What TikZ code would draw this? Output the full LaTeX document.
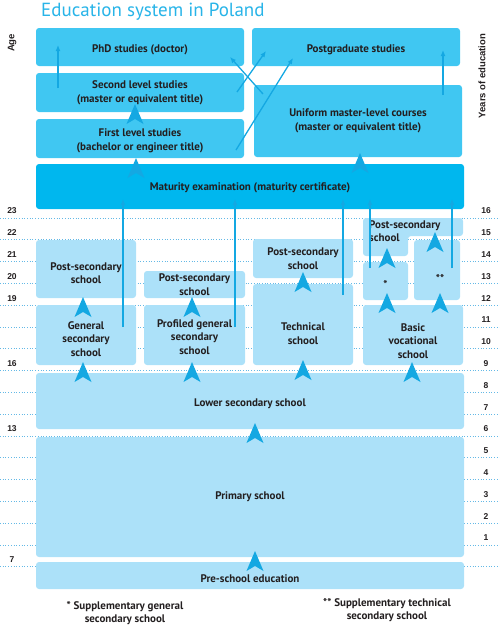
\documentclass[tikz,border=0pt]{standalone}
\usepackage{fontspec}
\setmainfont{PT Sans}
\newfontfamily\numfont{Liberation Sans}
\usetikzlibrary{arrows.meta,calc}
\definecolor{upbox}{RGB}{64,199,242}
\definecolor{matbox}{RGB}{0,183,238}
\definecolor{lowbox}{RGB}{172,225,249}
\definecolor{arrowc}{RGB}{20,168,226}
\definecolor{gridc}{RGB}{100,185,230}
\definecolor{txt}{RGB}{35,31,32}
\definecolor{titlec}{RGB}{40,180,232}
\newcommand\boxfont{\bfseries\fontsize{11}{13.6}\selectfont}
\begin{document}
\begin{tikzpicture}[x=1pt,y=-1pt,
  box/.style={rounded corners=3pt, inner sep=0pt, align=center, text=txt, font=\boxfont},
  up/.style={box, fill=upbox},
  matb/.style={box, fill=matbox},
  low/.style={box, fill=lowbox},
  thinarrow/.style={draw=arrowc, line width=1.3pt, -{Latex[length=6pt,width=5pt]}},
  gridline/.style={gridc, dotted, line width=0.7pt},
  num/.style={font=\numfont\bfseries\fontsize{8.5}{9}\selectfont, text=txt},
  chev/.pic={\fill[arrowc] (0,0) -- (8.5,20) -- (0,15) -- (-8.5,20) -- cycle;}]
\useasboundingbox (0,0) rectangle (500,627);
% title
\node[anchor=base west, inner sep=0pt, text=titlec, font=\fontsize{19}{22}\selectfont] (title) at (41,16) {Education system in Poland};
% grid lines and numbers
\foreach \k in {0,...,16} \draw[gridline] (0,218+21.8*\k) -- (500,218+21.8*\k);
\foreach \n [count=\k from 0] in {16,15,...,1} \node[num] (r\n) at (486,211+21.8*\k) {\n};
\foreach \n/\k in {23/0,22/1,21/2,20/3,19/4,16/7,13/10,7/16} \node[num] (l\n) at (12,211+21.8*\k) {\n};
\node[num, rotate=90, font=\numfont\bfseries\fontsize{9.5}{10}\selectfont] (age) at (12,43) {Age};
\node[num, rotate=90, font=\numfont\bfseries\fontsize{9.5}{10}\selectfont] (years) at (482,76) {Years of education};
% higher education
\node[up, minimum width=208pt, minimum height=38pt, label={[box,yshift=-2.5pt]center:PhD studies (doctor)}] (phd) at (140,47) {};
\node[up, minimum width=208pt, minimum height=38pt, label={[box,yshift=-2.5pt]center:Postgraduate studies}] (pg) at (356,47) {};
\node[up, minimum width=208pt, minimum height=39pt] (sec) at (140,92.5) {Second level studies\\(master or equivalent title)};
\node[up, minimum width=208pt, minimum height=39pt, label={[box,yshift=-2pt]center:First level studies\\(bachelor or engineer title)}] (first) at (140,138.5) {};
\node[up, minimum width=208pt, minimum height=72pt] (uni) at (358,121) {Uniform master-level courses\\(master or equivalent title)};
\node[matb, minimum width=428pt, minimum height=45pt, label={[box,yshift=-1.5pt]center:Maturity examination (maturity certificate)}] (mat) at (250,186.5) {};
% secondary
\node[low, minimum width=100pt, minimum height=58pt, label={[box,yshift=-4pt]center:Post-secondary\\school}] (ps1) at (86,269) {};
\node[low, minimum width=100pt, minimum height=60pt, label={[box,yshift=-4pt]center:General\\secondary\\school}] (gen) at (86,335) {};
\node[low, minimum width=101pt, minimum height=27pt] (ps2) at (194.5,284.5) {Post-secondary\\school};
\node[low, minimum width=101pt, minimum height=60pt, label={[box,yshift=-2pt]center:Profiled general\\secondary\\school}] (prof) at (194.5,335) {};
\node[low, minimum width=100pt, minimum height=39pt] (ps3) at (303,258.5) {Post-secondary\\school};
\node[low, minimum width=100pt, minimum height=81pt, label={[box,yshift=-9pt]center:Technical\\school}] (tech) at (303,324.5) {};
\fill[lowbox, rounded corners=3pt] (363,218) -- (463,218) -- (463,236) -- (408,236) -- (408,256) -- (363,256) -- cycle;
\node[box, anchor=north west, align=left] (ps4) at (369,220) {Post-secondary\\school};
\node[low, minimum width=45pt, minimum height=38pt, label={[box,yshift=-3pt]center:*}] (star) at (385.5,281) {};
\node[low, minimum width=46pt, minimum height=60pt, label={[box,yshift=-8pt,xshift=3pt]center:**}] (dstar) at (437,270) {};
\node[low, minimum width=100pt, minimum height=60pt, label={[box,yshift=-6pt]center:Basic\\vocational\\school}] (basic) at (413,335) {};
\node[low, minimum width=428pt, minimum height=56pt, label={[box,yshift=-3pt]center:Lower secondary school}] (lower) at (250,401) {};
\node[low, minimum width=428pt, minimum height=120pt] (prim) at (250,497) {Primary school};
\node[low, minimum width=428pt, minimum height=27pt, label={[box,yshift=-3pt]center:Pre-school education}] (pre) at (250,575.5) {};
% footnotes
\node[box, font=\boxfont\fontsize{11}{13}\selectfont] (fn1) at (125,613) {* Supplementary general\\secondary school};
\node[box, font=\boxfont\fontsize{11}{13}\selectfont] (fn2) at (387,610) {** Supplementary technical\\secondary school};
% thin arrows
\coordinate (a1s) at (58,88);   \coordinate (a1e) at (58,45);
\coordinate (a2s) at (237,92);  \coordinate (a2e) at (266,51);
\coordinate (a3s) at (263,94);  \coordinate (a3e) at (230,57);
\coordinate (a4s) at (236,150); \coordinate (a4e) at (293,58);
\coordinate (a5s) at (443,95);  \coordinate (a5e) at (443,50);
\coordinate (v1s) at (123,327); \coordinate (v1e) at (123,199);
\coordinate (v2s) at (235,327); \coordinate (v2e) at (235,199);
\coordinate (v3s) at (343,295); \coordinate (v3e) at (343,199);
\coordinate (v4s) at (370,268); \coordinate (v4e) at (370,199);
\coordinate (v5s) at (452,268); \coordinate (v5e) at (452,199);
\foreach \a in {a1,a2,a3,a4,a5,v1,v2,v3,v4,v5} \draw[thinarrow] (\a s) -- (\a e);
% chevrons
\foreach \x/\y in {135/104,136/158,360/153,83/297,192/297,303/272,387/248,435/232,387/293,440/293,83/362,192/362,303/360,412/362,255/423,255/551}
  \pic at (\x,\y) {chev};
\end{tikzpicture}
\end{document}
